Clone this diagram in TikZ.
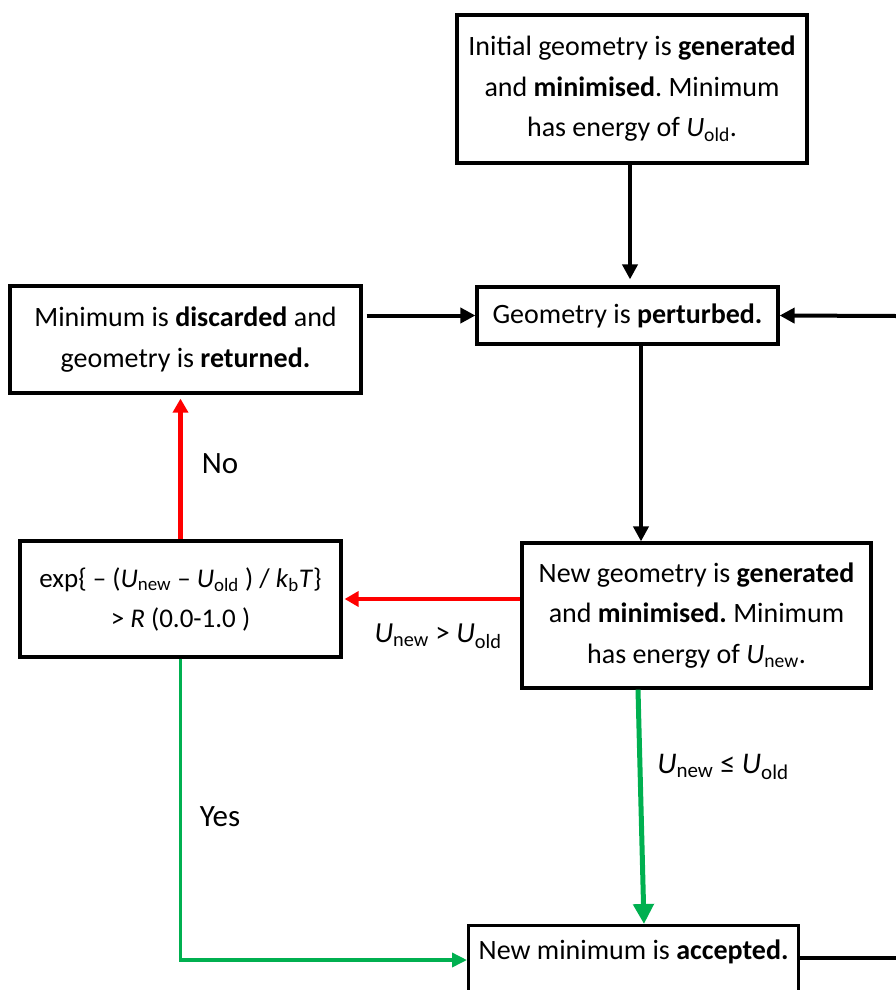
\documentclass[tikz,border=0pt]{standalone}
\usepackage{fontspec}
\setmainfont{Carlito}
\usetikzlibrary{arrows.meta}
\definecolor{okred}{RGB}{255,0,0}
\definecolor{okgreen}{RGB}{0,176,80}
\newcommand{\Uu}[1]{\textit{U}\textsubscript{#1}}
\frenchspacing
\begin{document}
\begin{tikzpicture}[x=1pt,y=-1pt,
  box/.style={draw=black, line width=3.2pt, inner sep=0pt, align=center, font=\fontsize{28}{40.5}\selectfont},
  arr/.style={line width=4pt, -{Triangle[length=15pt,width=15pt]}},
  garr/.style={line width=5pt, okgreen, -{Triangle[length=20pt,width=20pt]}},
  rarr/.style={line width=4.5pt, okred, -{Triangle[length=14pt,width=15pt]}},
  lbl/.style={font=\fontsize{29}{32}\selectfont, inner sep=0pt}
]
\useasboundingbox (0,0) rectangle (896,990);
\clip (0,0) rectangle (896,990);
% boxes
\node[box, minimum width=350pt, minimum height=148pt] (init) at (632,89)
  {Initial geometry is \textbf{generated}\\ and \textbf{minimised}. Minimum\\ has energy of \Uu{old}.};
\node[box, minimum width=301pt, minimum height=57pt] (pert) at (627.5,315.5)
  {Geometry is \textbf{perturbed.}};
\node[box, minimum width=351pt, minimum height=107pt] (disc) at (185.5,339.5)
  {Minimum is \textbf{discarded} and\\ geometry is \textbf{returned.}};
\node[box, minimum width=349pt, minimum height=145pt] (newg) at (696.5,615.5)
  {New geometry is \textbf{generated}\\ and \textbf{minimised.} Minimum\\ has energy of \Uu{new}.};
\node[box, minimum width=321pt, minimum height=116pt, font=\fontsize{27}{40}\selectfont] (expb) at (180.5,599)
  {exp\{ -- (\Uu{new} -- \Uu{old} ) / \textit{k}\textsubscript{b}\textit{T}\}\\ > \textit{R} (0.0-1.0 )};
\node[box, minimum width=330pt, anchor=north west, text height=22pt, text depth=70pt, inner ysep=12pt] (acc) at (467,924)
  {New minimum is \textbf{accepted.}};
% helper coordinates
\coordinate (rin) at (896,316);
\coordinate (xdown) at (641,0);
\coordinate (xinit) at (630,0);
\coordinate (yred) at (0,599);
\coordinate (gtop) at (638,0);
\coordinate (gbot) at (644,0);
\coordinate (yyes) at (0,960);
\coordinate (racc) at (896,958);
% black connectors
\draw[arr, shorten >=6pt] (init.south -| xinit) -- (pert.north -| xinit);
\draw[arr, shorten <=4pt] (pert.west -| disc.east) -- (pert.west);
\draw[arr] (rin) -- (pert.east);
\draw[arr] (pert.south -| xdown) -- (newg.north -| xdown);
\draw[line width=4pt] (acc.east |- racc) -- (racc);
% red connectors
\draw[rarr, shorten >=2pt] (newg.west |- yred) -- (expb.east |- yred);
\draw[rarr, shorten >=4pt] (expb.north) -- (expb.north |- disc.south);
% green connectors
\draw[garr] (newg.south -| gtop) -- (acc.north -| gbot);
\draw[garr, line width=3.5pt, -{Triangle[length=15pt,width=14pt]}] (expb.south) |- (acc.west |- yyes);
% labels
\node[lbl, font=\fontsize{31}{34}\selectfont] (no) at (220,464) {No};
\node[lbl, font=\fontsize{31}{34}\selectfont] (yes) at (220,817) {Yes};
\node[lbl] (gt) at (438,636) {\Uu{new} > \Uu{old}};
\node[lbl, font=\fontsize{30}{32}\selectfont] (le) at (723,767) {\Uu{new} ≤ \Uu{old}};
\end{tikzpicture}
\end{document}
